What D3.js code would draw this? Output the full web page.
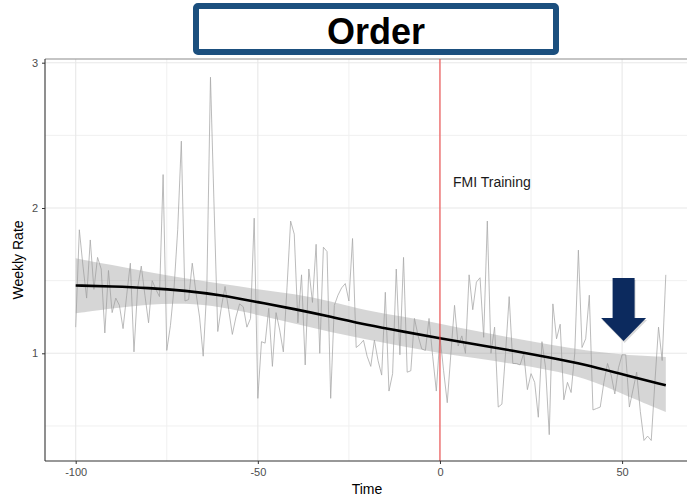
<!DOCTYPE html>
<html>
<head>
<meta charset="utf-8">
<script src="https://cdn.jsdelivr.net/npm/d3@7"></script>
<style>
  html, body { margin: 0; padding: 0; background: #fff; }
  svg { display: block; font-family: "Liberation Sans", Arial, sans-serif; }
</style>
</head>
<body>
<svg id="chart" width="687" height="499"></svg>
<script>
// ---- data ----
const weeks = d3.range(-100, 63);
const weeklyRate = [
  1.18, 1.85, 1.60, 1.38, 1.78, 1.44, 1.66, 1.58, 1.14, 1.57,
  1.28, 1.38, 1.33, 1.17, 1.40, 1.62, 1.01, 1.45, 1.60, 1.40,
  1.21, 1.50, 1.44, 1.39, 2.23, 1.02, 1.19, 1.45, 1.85, 2.46,
  1.36, 1.37, 1.62, 1.42, 1.25, 0.98, 1.45, 2.90, 2.00, 1.15,
  1.32, 1.46, 1.30, 1.13, 1.25, 1.34, 1.32, 1.18, 1.24, 1.93,
  0.69, 1.08, 1.07, 1.31, 0.91, 1.28, 1.16, 1.01, 1.45, 1.91,
  1.82, 1.21, 1.54, 0.92, 1.58, 1.35, 1.75, 1.00, 1.73, 1.70,
  0.69, 1.33, 1.40, 1.45, 1.48, 1.36, 1.79, 1.04, 1.06, 1.09,
  0.98, 0.91, 1.09, 0.95, 0.85, 1.42, 0.74, 0.86, 1.58, 0.99,
  1.66, 0.87, 0.88, 1.24, 1.12, 1.03, 1.02, 1.24, 0.98, 0.74,
  1.12, 0.88, 0.66, 1.00, 1.33, 1.05, 1.12, 1.00, 1.54, 1.30,
  1.49, 1.52, 1.11, 1.91, 1.00, 1.18, 0.63, 0.65, 1.00, 1.39,
  0.93, 0.93, 0.92, 1.00, 0.75, 0.86, 0.80, 0.56, 1.08, 0.90,
  0.44, 1.34, 1.10, 1.20, 0.68, 0.80, 0.73, 1.00, 1.71, 1.04,
  1.10, 1.40, 0.61, 0.62, 0.63, 0.80, 0.93, 0.85, 0.72, 0.90,
  0.99, 0.99, 0.63, 0.75, 0.87, 0.60, 0.40, 0.43, 0.40, 0.80,
  1.18, 0.95, 1.54
];
const smoothT   = [-100, -90, -80, -70, -60, -50, -40, -30, -20, -10, 0, 10, 20, 30, 40, 50, 62];
const smoothFit = [1.467, 1.460, 1.450, 1.432, 1.400, 1.352, 1.305, 1.252, 1.195, 1.149, 1.103, 1.060, 1.018, 0.972, 0.922, 0.855, 0.780];
const smoothHi  = [1.654, 1.608, 1.558, 1.516, 1.478, 1.440, 1.410, 1.360, 1.292, 1.252, 1.205, 1.152, 1.106, 1.060, 1.020, 0.990, 0.975];
const smoothLo  = [1.275, 1.310, 1.338, 1.346, 1.320, 1.264, 1.204, 1.146, 1.095, 1.046, 1.000, 0.966, 0.928, 0.886, 0.830, 0.722, 0.596];
const xTicks = [-100, -50, 0, 50];
const xMinor = [-75, -25, 25];
const yTicks = [1, 2, 3];
const yMinor = [0.5, 1.5, 2.5];
const titleText = "Order";
const eventLabel = "FMI Training";
const eventTime = 0;
const arrowTime = 50;

// ---- layout ----
const svg = d3.select("#chart");
const panel = { left: 45, right: 687, top: 59, bottom: 461 };
const x = d3.scaleLinear().domain([-100, 50]).range([75.7, 622.1]);
const y = d3.scaleLinear().domain([1, 3]).range([353.3, 62.7]);

// grid
const g = svg.append("g");
g.selectAll(".ymin").data(yMinor).join("line")
  .attr("x1", panel.left).attr("x2", panel.right)
  .attr("y1", d => y(d)).attr("y2", d => y(d))
  .attr("stroke", "#f0f0f0").attr("stroke-width", 1);
g.selectAll(".xmin").data(xMinor).join("line")
  .attr("y1", panel.top).attr("y2", panel.bottom)
  .attr("x1", d => x(d)).attr("x2", d => x(d))
  .attr("stroke", "#f0f0f0").attr("stroke-width", 1);
g.selectAll(".ymaj").data(yTicks).join("line")
  .attr("x1", panel.left).attr("x2", panel.right)
  .attr("y1", d => y(d)).attr("y2", d => y(d))
  .attr("stroke", "#e8e8e8").attr("stroke-width", 1.1);
g.selectAll(".xmaj").data(xTicks).join("line")
  .attr("y1", panel.top).attr("y2", panel.bottom)
  .attr("x1", d => x(d)).attr("x2", d => x(d))
  .attr("stroke", "#e8e8e8").attr("stroke-width", 1.1);

// panel top border
svg.append("line").attr("x1", panel.left).attr("x2", panel.right)
  .attr("y1", panel.top).attr("y2", panel.top)
  .attr("stroke", "#8c8c8c").attr("stroke-width", 1.2);

// raw weekly line
const series = weeks.map((t, i) => ({ t, v: weeklyRate[i] }));
svg.append("path").datum(series)
  .attr("fill", "none").attr("stroke", "#aaaaaa").attr("stroke-width", 0.8)
  .attr("d", d3.line().x(d => x(d.t)).y(d => y(d.v)));

// smooth band
const sm = smoothT.map((t, i) => ({ t, f: smoothFit[i], lo: smoothLo[i], hi: smoothHi[i] }));
svg.append("path").datum(sm)
  .attr("fill", "#999999").attr("fill-opacity", 0.4)
  .attr("d", d3.area().curve(d3.curveBasis).x(d => x(d.t)).y0(d => y(d.lo)).y1(d => y(d.hi)));
svg.append("path").datum(sm)
  .attr("fill", "none").attr("stroke", "#000").attr("stroke-width", 2.6)
  .attr("d", d3.line().curve(d3.curveBasis).x(d => x(d.t)).y(d => y(d.f)));

// event line
svg.append("line").attr("x1", x(eventTime)).attr("x2", x(eventTime))
  .attr("y1", panel.top).attr("y2", panel.bottom)
  .attr("stroke", "#f03c3c").attr("stroke-width", 1);
svg.append("text").attr("x", x(eventTime) + 13).attr("y", 187)
  .attr("font-size", 14).attr("fill", "#1a1a1a").text(eventLabel);

// axes
const fmt = d => String(d);
const xAxis = d3.axisBottom(x).tickValues(xTicks).tickFormat(fmt).tickSize(3).tickPadding(4);
const xa = svg.append("g").attr("transform", `translate(0,${panel.bottom})`).call(xAxis);
xa.select(".domain").remove();
xa.selectAll(".tick line").attr("stroke", "#333");
xa.selectAll(".tick text").attr("font-size", 11).attr("fill", "#4d4d4d")
  .attr("font-family", "'Liberation Sans', Arial, sans-serif");
const yAxis = d3.axisLeft(y).tickValues(yTicks).tickFormat(fmt).tickSize(3).tickPadding(4);
const ya = svg.append("g").attr("transform", `translate(${panel.left},0)`).call(yAxis);
ya.select(".domain").remove();
ya.selectAll(".tick line").attr("stroke", "#333");
ya.selectAll(".tick text").attr("font-size", 11).attr("fill", "#4d4d4d")
  .attr("font-family", "'Liberation Sans', Arial, sans-serif");
svg.append("line").attr("x1", panel.left).attr("x2", panel.right)
  .attr("y1", panel.bottom).attr("y2", panel.bottom).attr("stroke", "#333").attr("stroke-width", 1.1);
svg.append("line").attr("x1", panel.left).attr("x2", panel.left)
  .attr("y1", panel.top).attr("y2", panel.bottom).attr("stroke", "#333").attr("stroke-width", 1.1);

// axis titles
svg.append("text").attr("x", (panel.left + 687) / 2 + 1).attr("y", 494)
  .attr("text-anchor", "middle").attr("font-size", 14).attr("fill", "#000").text("Time");
svg.append("text").attr("transform", "translate(23,260) rotate(-90)")
  .attr("text-anchor", "middle").attr("font-size", 14).attr("fill", "#000").text("Weekly Rate");

// title box
svg.append("rect").attr("x", 196).attr("y", 6).attr("width", 360).attr("height", 46)
  .attr("rx", 2).attr("fill", "#fff").attr("stroke", "#1b4f7e").attr("stroke-width", 6);
svg.append("text").attr("x", 376).attr("y", 44).attr("text-anchor", "middle")
  .attr("font-size", 36).attr("font-weight", "bold").attr("fill", "#000").text(titleText);

// arrow
const ax = x(arrowTime) + 1.5;
const arrow = d3.path();
arrow.moveTo(ax - 11, 278); arrow.lineTo(ax + 11, 278); arrow.lineTo(ax + 11, 318);
arrow.lineTo(ax + 22.5, 318); arrow.lineTo(ax, 341); arrow.lineTo(ax - 22.5, 318);
arrow.lineTo(ax - 11, 318); arrow.closePath();
svg.append("path").attr("d", arrow.toString()).attr("fill", "#000").attr("opacity", 0.15)
  .attr("transform", "translate(1,2)");
svg.append("path").attr("d", arrow.toString()).attr("fill", "#0c2a5e");
</script>
</body>
</html>
